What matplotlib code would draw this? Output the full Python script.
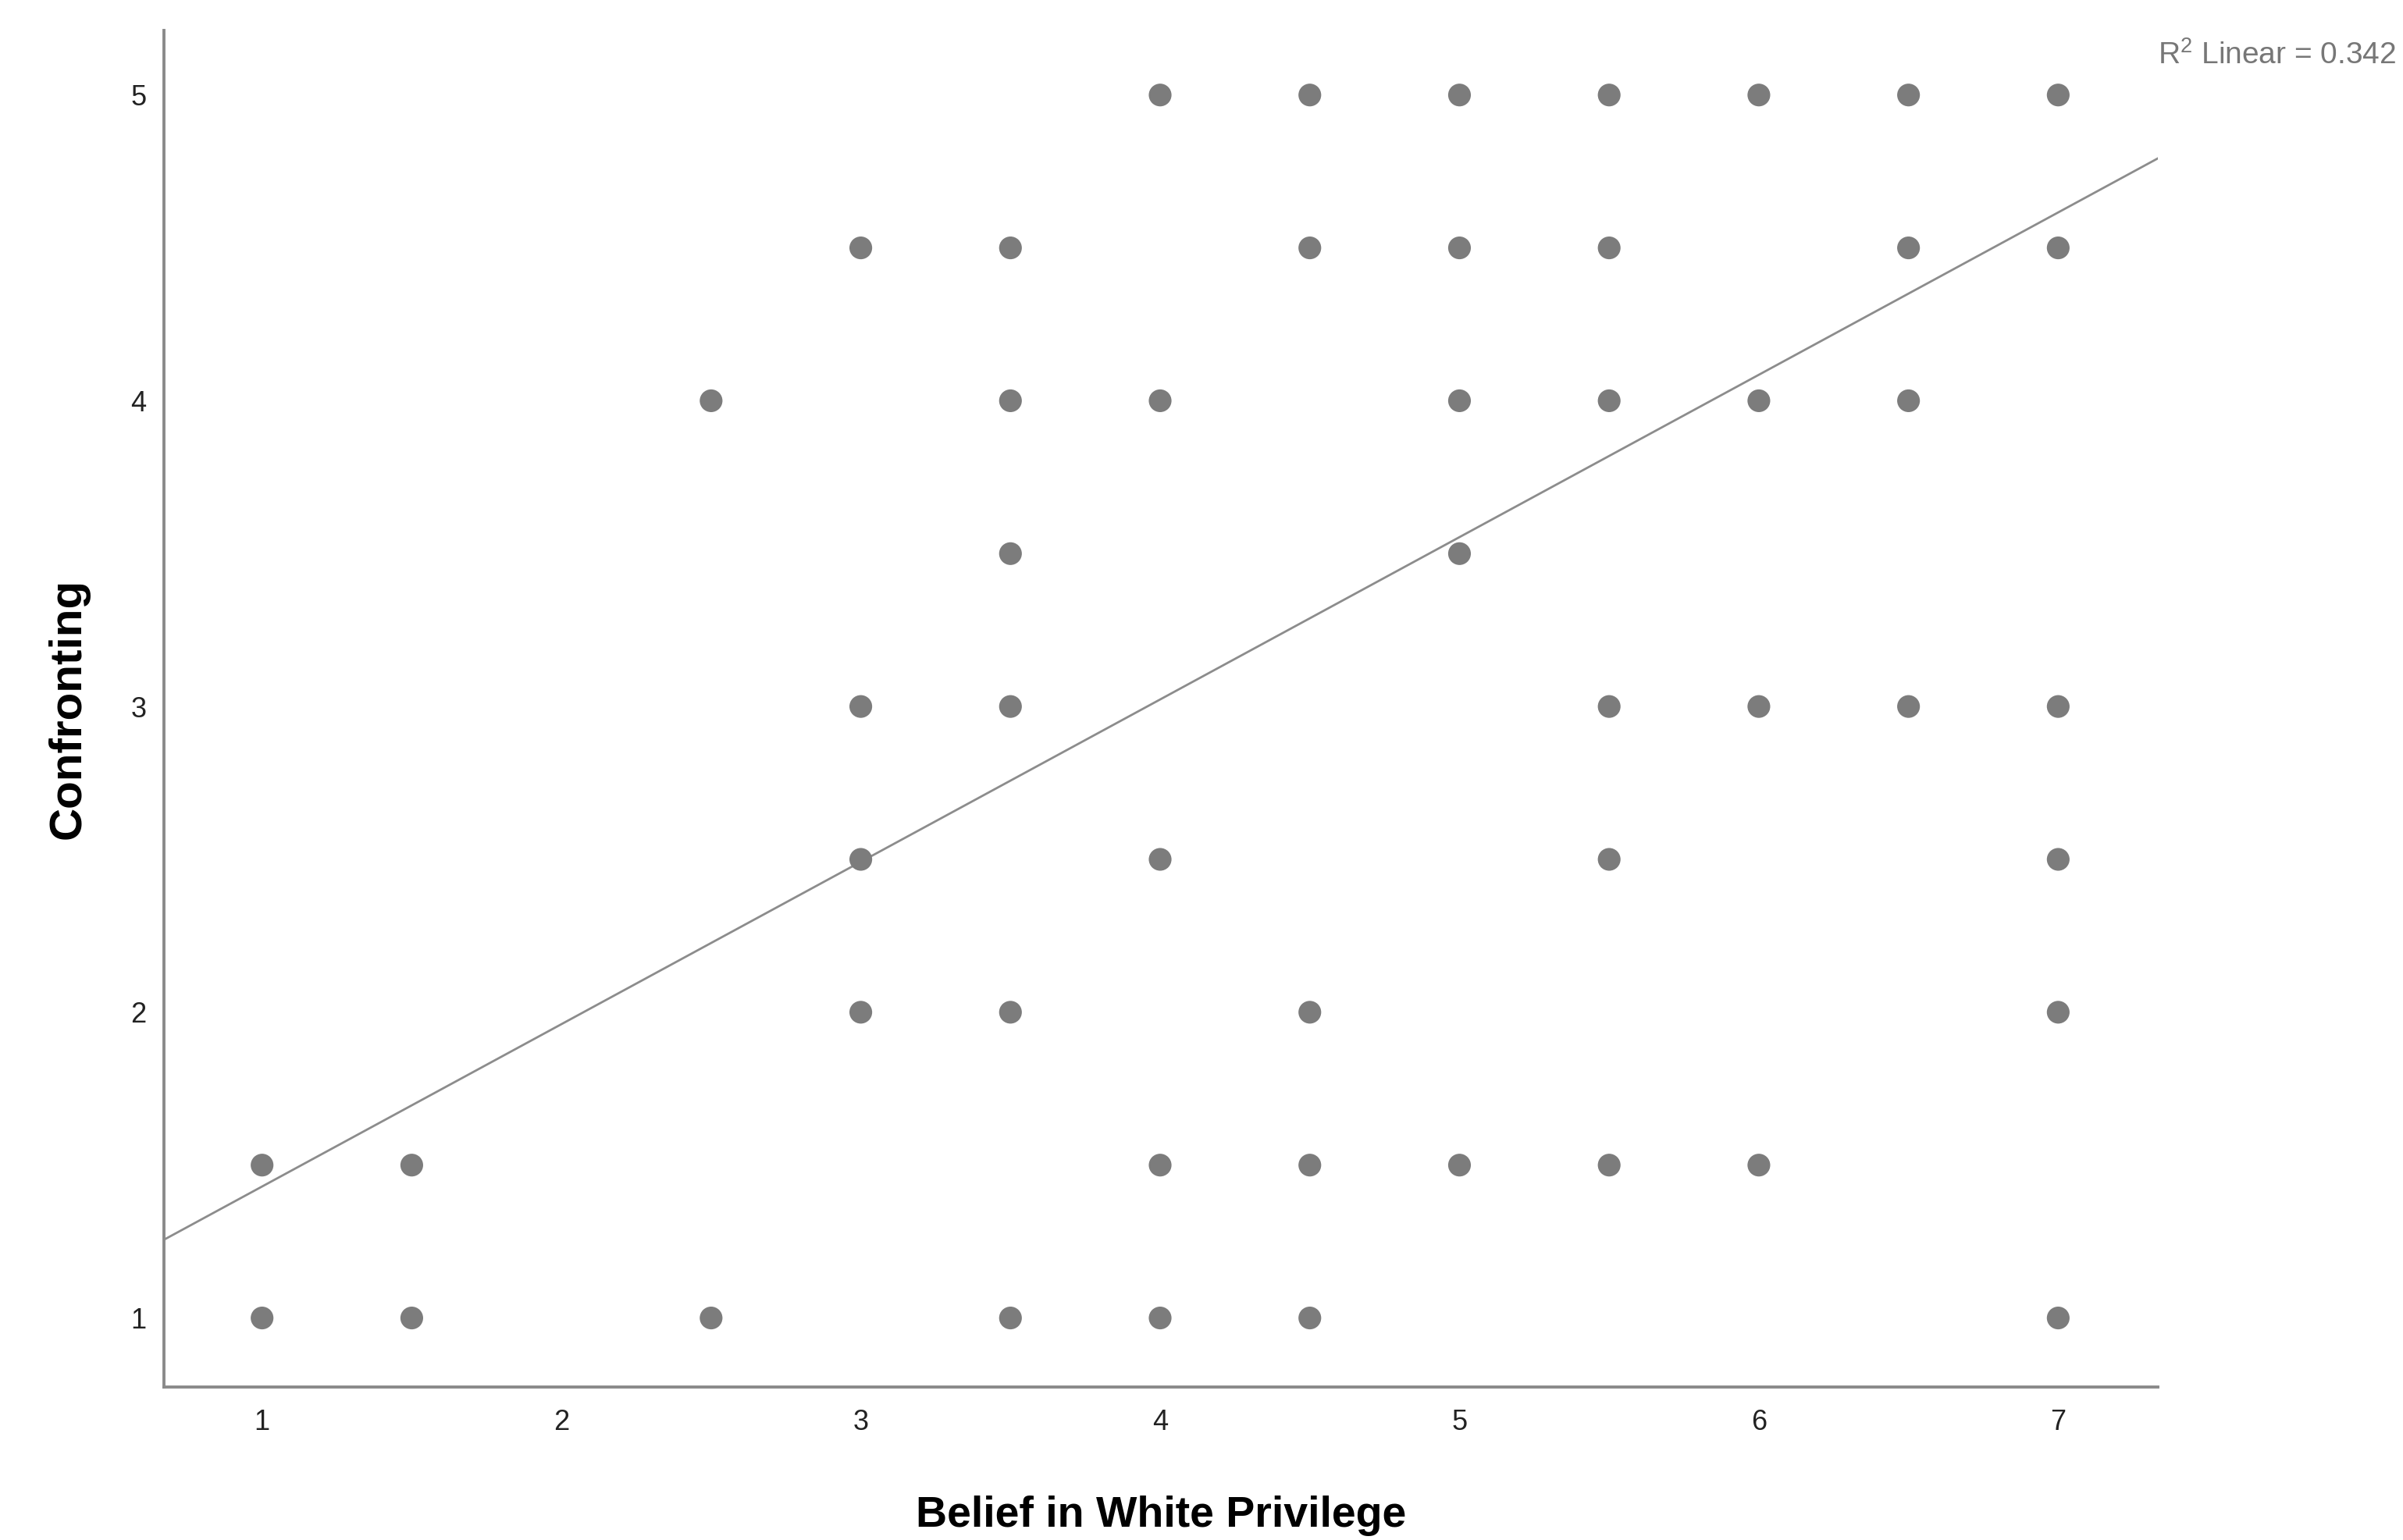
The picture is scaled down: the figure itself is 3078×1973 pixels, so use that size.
import numpy as np
import matplotlib
matplotlib.use('Agg')
import matplotlib.pyplot as plt

# Data (Belief in White Privilege vs Confronting)
belief = [4, 4.5, 5, 5.5, 6, 6.5, 7,
          3, 3.5, 4.5, 5, 5.5, 6.5, 7,
          2.5, 3.5, 4, 5, 5.5, 6, 6.5,
          3.5, 5,
          3, 3.5, 5.5, 6, 6.5, 7,
          3, 4, 5.5, 7,
          3, 3.5, 4.5, 7,
          1, 1.5, 4, 4.5, 5, 5.5, 6,
          1, 1.5, 2.5, 3.5, 4, 4.5, 7]
confronting = [5, 5, 5, 5, 5, 5, 5,
               4.5, 4.5, 4.5, 4.5, 4.5, 4.5, 4.5,
               4, 4, 4, 4, 4, 4, 4,
               3.5, 3.5,
               3, 3, 3, 3, 3, 3,
               2.5, 2.5, 2.5, 2.5,
               2, 2, 2, 2,
               1.5, 1.5, 1.5, 1.5, 1.5, 1.5, 1.5,
               1, 1, 1, 1, 1, 1, 1]

# fit line as drawn in the chart
fit_intercept = 0.899
fit_slope = 0.531
r2_text = 'R$^2$ Linear = 0.342'

x_ticks = [1, 2, 3, 4, 5, 6, 7]
y_ticks = [1, 2, 3, 4, 5]

plt.rcParams['font.family'] = ['Liberation Sans', 'DejaVu Sans']
plt.rcParams['mathtext.fontset'] = 'custom'
plt.rcParams['mathtext.rm'] = 'Liberation Sans'

fig = plt.figure(figsize=(15.39, 9.865), dpi=200)
ax = fig.add_axes([0.0682, 0.0993, 0.8298, 0.8807])

ax.scatter(belief, confronting, s=110, color='#7c7c7c', edgecolors='none', zorder=3)

xlim = (0.672, 7.333)
xs = np.array(xlim)
ax.plot(xs, fit_intercept + fit_slope * xs, color='#8c8c8c', linewidth=1.0, zorder=2)

ax.set_xlim(xlim)
ax.set_ylim(0.774, 5.21)
ax.set_xticks(x_ticks)
ax.set_yticks(y_ticks)
ax.tick_params(length=0, labelsize=13, colors='#222222')
ax.tick_params(axis='x', pad=10)
ax.tick_params(axis='y', pad=8)

for s in ['top', 'right']:
    ax.spines[s].set_visible(False)
for s in ['left', 'bottom']:
    ax.spines[s].set_color('#8a8a8a')
    ax.spines[s].set_linewidth(1.4)

ax.set_xlabel('Belief in White Privilege', fontsize=20, fontweight='bold', va='center')
ax.set_ylabel('Confronting', fontsize=21, fontweight='bold', va='center')
ax.xaxis.set_label_coords(0.5, -0.095)
ax.yaxis.set_label_coords(-0.0477, 0.5)

fig.text(0.898, 0.964, r2_text, fontsize=14, color='#777777', ha='left', va='center')

fig.savefig('out.png', dpi=200, facecolor='white')
